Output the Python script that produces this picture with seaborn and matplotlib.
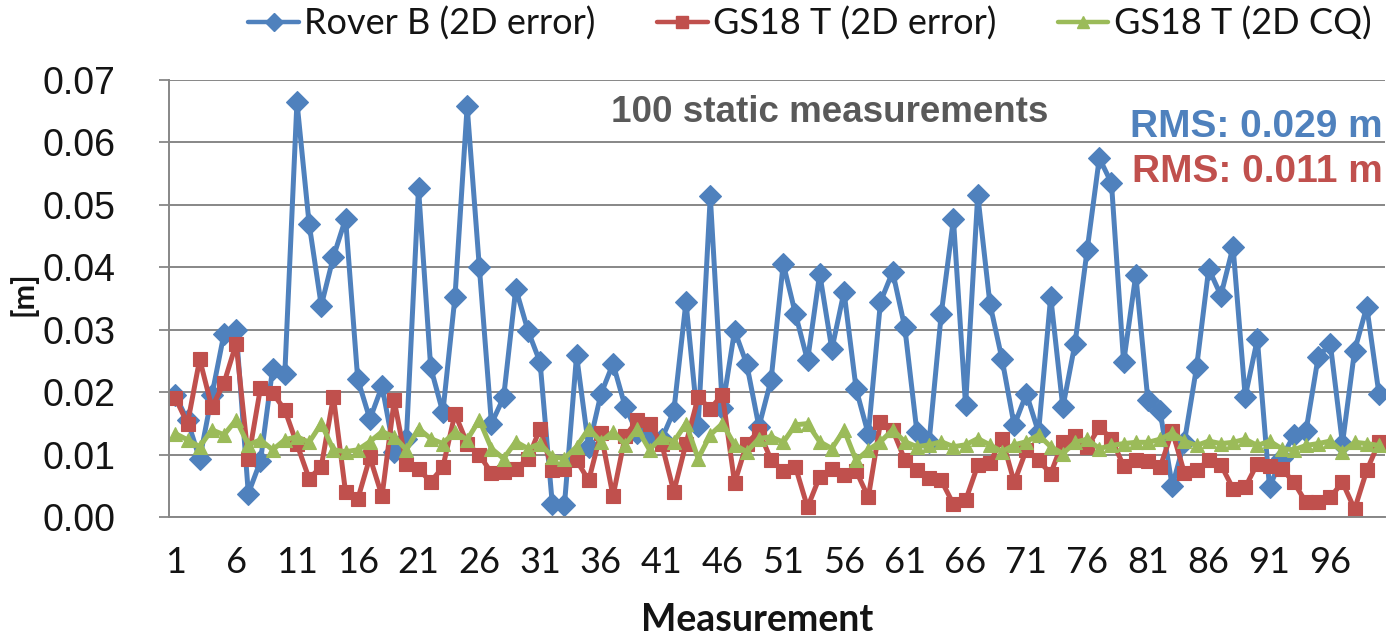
import numpy as np
import pandas as pd
import matplotlib
matplotlib.use("Agg")
import matplotlib.pyplot as plt
from matplotlib.ticker import FixedLocator, FuncFormatter
from matplotlib.lines import Line2D
import seaborn as sns

# ---- data -----------------------------------------------------------------
measurement = list(range(1, 101))

rover_b_2d_error = [
    0.0195, 0.0155, 0.0093, 0.0195, 0.0294, 0.0300, 0.0038, 0.0090, 0.0238, 0.0229,
    0.0665, 0.0470, 0.0339, 0.0417, 0.0478, 0.0221, 0.0157, 0.0210, 0.0105, 0.0125,
    0.0527, 0.0240, 0.0168, 0.0353, 0.0658, 0.0401, 0.0150, 0.0192, 0.0366, 0.0299,
    0.0248, 0.0022, 0.0019, 0.0259, 0.0112, 0.0197, 0.0246, 0.0177, 0.0135, 0.0130,
    0.0125, 0.0170, 0.0345, 0.0146, 0.0514, 0.0175, 0.0299, 0.0245, 0.0145, 0.0220,
    0.0406, 0.0326, 0.0251, 0.0390, 0.0269, 0.0361, 0.0205, 0.0133, 0.0345, 0.0393,
    0.0304, 0.0136, 0.0121, 0.0326, 0.0477, 0.0179, 0.0516, 0.0342, 0.0253, 0.0147,
    0.0198, 0.0136, 0.0353, 0.0176, 0.0278, 0.0428, 0.0575, 0.0535, 0.0248, 0.0388,
    0.0187, 0.0170, 0.0050, 0.0121, 0.0240, 0.0398, 0.0355, 0.0433, 0.0193, 0.0285,
    0.0048, 0.0095, 0.0131, 0.0138, 0.0256, 0.0278, 0.0118, 0.0267, 0.0337, 0.0198,
]

gs18t_2d_error = [
    0.0191, 0.0150, 0.0253, 0.0176, 0.0215, 0.0278, 0.0093, 0.0207, 0.0199, 0.0172,
    0.0117, 0.0062, 0.0081, 0.0193, 0.0040, 0.0029, 0.0096, 0.0034, 0.0187, 0.0085,
    0.0077, 0.0057, 0.0080, 0.0166, 0.0118, 0.0100, 0.0071, 0.0072, 0.0077, 0.0094,
    0.0142, 0.0076, 0.0077, 0.0091, 0.0059, 0.0135, 0.0034, 0.0130, 0.0155, 0.0150,
    0.0118, 0.0041, 0.0118, 0.0192, 0.0174, 0.0196, 0.0055, 0.0118, 0.0138, 0.0092,
    0.0074, 0.0081, 0.0016, 0.0065, 0.0077, 0.0067, 0.0074, 0.0032, 0.0152, 0.0140,
    0.0092, 0.0076, 0.0063, 0.0059, 0.0021, 0.0027, 0.0083, 0.0087, 0.0126, 0.0056,
    0.0108, 0.0091, 0.0070, 0.0121, 0.0130, 0.0112, 0.0144, 0.0126, 0.0082, 0.0092,
    0.0090, 0.0080, 0.0138, 0.0071, 0.0076, 0.0091, 0.0084, 0.0046, 0.0048, 0.0086,
    0.0082, 0.0078, 0.0056, 0.0024, 0.0025, 0.0032, 0.0056, 0.0013, 0.0075, 0.0120,
]

gs18t_2d_cq = [
    0.0134, 0.0124, 0.0113, 0.0140, 0.0132, 0.0156, 0.0116, 0.0124, 0.0108, 0.0124,
    0.0129, 0.0120, 0.0150, 0.0108, 0.0105, 0.0108, 0.0121, 0.0137, 0.0129, 0.0108,
    0.0142, 0.0126, 0.0118, 0.0137, 0.0124, 0.0156, 0.0110, 0.0094, 0.0121, 0.0110,
    0.0118, 0.0097, 0.0094, 0.0113, 0.0142, 0.0121, 0.0137, 0.0116, 0.0142, 0.0108,
    0.0129, 0.0121, 0.0150, 0.0094, 0.0132, 0.0150, 0.0116, 0.0105, 0.0126, 0.0129,
    0.0120, 0.0148, 0.0150, 0.0121, 0.0110, 0.0140, 0.0091, 0.0108, 0.0121, 0.0140,
    0.0121, 0.0113, 0.0116, 0.0121, 0.0113, 0.0116, 0.0126, 0.0116, 0.0105, 0.0116,
    0.0121, 0.0132, 0.0113, 0.0102, 0.0120, 0.0125, 0.0110, 0.0115, 0.0118, 0.0120,
    0.0120, 0.0125, 0.0135, 0.0122, 0.0115, 0.0122, 0.0118, 0.0120, 0.0125, 0.0115,
    0.0122, 0.0110, 0.0108, 0.0115, 0.0118, 0.0122, 0.0105, 0.0120, 0.0118, 0.0115,
]

series_names = ["Rover B (2D error)", "GS18 T (2D error)", "GS18 T (2D CQ)"]
x_tick_labels = [str(v) for v in range(1, 100, 5)]
y_ticks = [0.00, 0.01, 0.02, 0.03, 0.04, 0.05, 0.06, 0.07]
title_text = "100 static measurements"
rms_rover_text = "RMS: 0.029 m"
rms_gs18_text = "RMS: 0.011 m"

# ---- styling --------------------------------------------------------------
sns.set_theme(style="white")
plt.rcParams["font.family"] = ["Lato", "DejaVu Sans"]
arial_like = ["Liberation Sans", "DejaVu Sans"]

colors = ["#4F81BD", "#C0504D", "#9BBB59"]
markers = ["D", "s", "^"]
msizes = [11.0, 9.5, 10.5]
grid_gray = "#878787"
ink = "#141414"

df = pd.DataFrame({
    "Measurement": measurement * 3,
    "value": rover_b_2d_error + gs18t_2d_error + gs18t_2d_cq,
    "series": np.repeat(series_names, len(measurement)),
})

W, H = 1387, 639
fig = plt.figure(figsize=(W / 100, H / 100), dpi=100)
left, right, top, bottom = 169.3, 1385.0, 80.0, 517.3
ax = fig.add_axes([left / W, 1 - bottom / H, (right - left) / W, (bottom - top) / H])

for name, c, m, ms in zip(series_names, colors, markers, msizes):
    sub = df[df["series"] == name]
    sns.lineplot(data=sub, x="Measurement", y="value", ax=ax, color=c,
                 marker=m, markersize=ms, markeredgecolor=c, markeredgewidth=0.8,
                 linewidth=3.6, legend=False, estimator=None, sort=True)

ax.set_xlim(0.5, 100.5)
ax.set_ylim(0, 0.07)

ax.yaxis.set_major_locator(FixedLocator(y_ticks))
ax.yaxis.set_major_formatter(FuncFormatter(lambda v, p: f"{v:.2f}"))
ax.grid(axis="y", color=grid_gray, linewidth=1.4)
ax.grid(axis="x", visible=False)
ax.set_axisbelow(True)

ax.set_xticks(range(1, 100, 5))
ax.set_xticklabels(x_tick_labels)
ax.set_xticks(np.arange(0.5, 101, 10), minor=True)
ax.tick_params(axis="x", which="major", length=0, pad=21, labelsize=26, colors=ink)
ax.tick_params(axis="x", which="minor", length=8, width=1.3, color=grid_gray, direction="out")
ax.tick_params(axis="y", which="major", length=7, width=1.3, color=grid_gray, direction="out",
               pad=32, labelsize=27, left=True, colors=ink)
for lbl in ax.get_yticklabels():
    lbl.set_family(arial_like)
    lbl.set_color(ink)

for s in ["top", "right"]:
    ax.spines[s].set_visible(False)
for s in ["left", "bottom"]:
    ax.spines[s].set_color(grid_gray)
    ax.spines[s].set_linewidth(1.4)

ax.set_xlabel("Measurement", fontsize=27, fontweight="bold", color=ink, va="center")
ax.xaxis.set_label_coords((757 - left) / (right - left), -(620 - bottom) / (bottom - top))
ax.set_ylabel("[m]", fontsize=22, fontweight="bold", color=ink, va="center")
ax.yaxis.set_label_coords(-(left - 23) / (right - left), 1 - (294 - top) / (bottom - top))

# annotations
ax.text((830 - left) / (right - left), 1 - (113 - top) / (bottom - top), title_text,
        transform=ax.transAxes, ha="center", va="center", fontsize=26.5,
        fontweight="bold", color="#595959", family=arial_like)
ax.text((1383 - left) / (right - left), 1 - (127 - top) / (bottom - top), rms_rover_text,
        transform=ax.transAxes, ha="right", va="center", fontsize=28,
        fontweight="bold", color=colors[0], family=arial_like)
ax.text((1383 - left) / (right - left), 1 - (172 - top) / (bottom - top), rms_gs18_text,
        transform=ax.transAxes, ha="right", va="center", fontsize=28,
        fontweight="bold", color=colors[1], family=arial_like)

# legend across the top
handles = [Line2D([0], [0], color=c, marker=m, markersize=ms * 0.85, linewidth=3.2,
                  markeredgecolor=c) for c, m, ms in zip(colors, markers, msizes)]
fig.legend(handles, series_names, loc="center", bbox_to_anchor=(810 / W, 1 - 24 / H),
           ncol=3, frameon=False, fontsize=26, handlelength=1.4, handletextpad=0.15,
           columnspacing=1.7, labelcolor=ink)

fig.savefig("out.png", dpi=100)
